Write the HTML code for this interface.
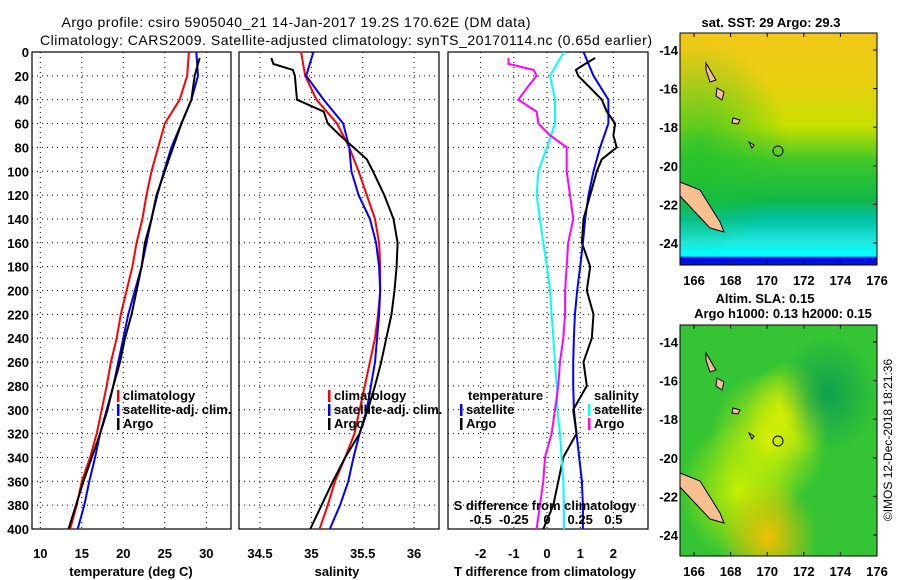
<!DOCTYPE html>
<html><head><meta charset="utf-8"><style>
body{margin:0;background:#fff;}
svg{display:block;font-family:"Liberation Sans",sans-serif;}
.b{font-weight:bold;font-size:13px;}
.t{font-size:14px;}
</style></head><body>
<svg id="c" width="900" height="580" viewBox="0 0 900 580" xmlns="http://www.w3.org/2000/svg">
<defs>
<linearGradient id="sstV" x1="0" y1="0" x2="0" y2="1">
<stop offset="0" stop-color="#f0c818"/><stop offset="0.22" stop-color="#e8d010"/>
<stop offset="0.4" stop-color="#c8e000"/><stop offset="0.55" stop-color="#40c828"/>
<stop offset="0.72" stop-color="#10b848"/><stop offset="0.8" stop-color="#00c0a0"/>
<stop offset="0.9" stop-color="#20e8e0"/><stop offset="0.96" stop-color="#00ffff"/>
<stop offset="0.97" stop-color="#0010e0"/><stop offset="1" stop-color="#0010e0"/>
</linearGradient>
<radialGradient id="sstH" cx="0.1" cy="0.5" r="0.45"><stop offset="0" stop-color="#20c030" stop-opacity="0.8"/><stop offset="1" stop-color="#20c030" stop-opacity="0"/></radialGradient>
<radialGradient id="sla1" cx="0.45" cy="0.5" r="0.3"><stop offset="0" stop-color="#d8f000"/><stop offset="1" stop-color="#d8f000" stop-opacity="0"/></radialGradient>
<radialGradient id="sla2" cx="0.45" cy="0.92" r="0.25"><stop offset="0" stop-color="#f0c000"/><stop offset="1" stop-color="#f0c000" stop-opacity="0"/></radialGradient>
<radialGradient id="sla3" cx="0.75" cy="0.3" r="0.25"><stop offset="0" stop-color="#10a050"/><stop offset="1" stop-color="#10a050" stop-opacity="0"/></radialGradient>
<radialGradient id="sla4" cx="0.3" cy="0.72" r="0.3"><stop offset="0" stop-color="#c8f000"/><stop offset="1" stop-color="#c8f000" stop-opacity="0"/></radialGradient>
<radialGradient id="sla5" cx="0.55" cy="0.38" r="0.22"><stop offset="0" stop-color="#e0f000"/><stop offset="1" stop-color="#e0f000" stop-opacity="0"/></radialGradient>
</defs>
<text class="t" x="296" y="27" text-anchor="middle" textLength="469">Argo profile: csiro 5905040_21 14-Jan-2017 19.2S 170.62E (DM data)</text>
<text class="t" x="346" y="45" text-anchor="middle" textLength="612">Climatology: CARS2009. Satellite-adjusted climatology: synTS_20170114.nc (0.65d earlier)</text>
<g id="plots"></g>
<g id="maps">
 <g>
  <rect x="680" y="33" width="197" height="232" fill="url(#sstV)"/>
  <rect x="680" y="33" width="197" height="232" fill="url(#sstH)"/>
  <path d="M680 182 L700 190 L720 222 L724 232 L710 228 L680 196Z" fill="#f8c090" stroke="#000"/>
  <path d="M706 63 L713 75 L716 80 L710 82 L706 70Z M717 88 L724 92 L722 100 L716 96Z M733 118 L740 120 L738 124 L732 123Z M749 142 L754 145 L752 148Z" fill="#f8c090" stroke="#000"/>
  <circle cx="778" cy="151" r="5" fill="none" stroke="#000"/>
  <rect x="680" y="33" width="197" height="232" fill="none" stroke="#000"/>
  <text class="b" x="771" y="27" text-anchor="middle">sat. SST: 29 Argo: 29.3</text>
 </g>
 <g>
  <rect x="680" y="325" width="197" height="231" fill="#34c434"/>
  <rect x="680" y="325" width="197" height="231" fill="url(#sla1)"/>
  <rect x="680" y="325" width="197" height="231" fill="url(#sla5)"/>
  <rect x="680" y="325" width="197" height="231" fill="url(#sla4)"/>
  <rect x="680" y="325" width="197" height="231" fill="url(#sla2)"/>
  <rect x="680" y="325" width="197" height="231" fill="url(#sla3)"/>
  <path d="M680 473 L700 481 L720 513 L724 523 L710 519 L680 487Z" fill="#f8c090" stroke="#000"/>
  <path d="M706 353 L713 365 L716 370 L710 372 L706 360Z M717 378 L724 382 L722 390 L716 386Z M733 408 L740 410 L738 414 L732 413Z M749 433 L754 436 L752 439Z" fill="#f8c090" stroke="#000"/>
  <circle cx="778" cy="441" r="5" fill="none" stroke="#000"/>
  <rect x="680" y="325" width="197" height="231" fill="none" stroke="#000"/>
  <text class="b" x="765" y="303" text-anchor="middle">Altim. SLA: 0.15</text>
  <text class="b" x="783" y="318" text-anchor="middle">Argo h1000: 0.13 h2000: 0.15</text>
 </g>
 <text x="892" y="440" font-size="12" text-anchor="middle" transform="rotate(-90 892 440)">©IMOS 12-Dec-2018 18:21:36</text>
</g>
</svg>
<script>
const depths=[0,20,40,60,80,100,120,140,160,180,200,220,240,260,280,300,320,340,360,380,400];
const tClim=[27.9,27.7,26.8,25.0,24.2,23.4,22.8,22.3,21.6,21.1,20.4,19.7,19.2,18.5,18.0,17.4,16.8,16.0,15.0,14.4,13.6];
const tSat=[28.8,29.0,28.2,27.0,25.8,24.9,24.1,23.4,22.8,22.2,21.4,20.6,20.0,19.4,18.8,18.0,17.2,16.6,15.9,15.3,14.5];
const argoDepths=[5,10,15,20,30,40,50,60,70,80,90,100,120,140,160,180,200,220,240,260,280,300,320,340,360,380,400];
const tArgo=[29.2,29.0,28.8,28.6,28.4,28.2,27.6,27.0,26.5,26.0,25.5,25.0,24.0,23.4,22.6,22.2,21.6,21.0,20.2,19.6,18.8,18.1,17.2,16.2,15.2,14.3,13.4];
const sClim=[34.90,34.94,35.05,35.25,35.37,35.46,35.54,35.62,35.66,35.67,35.67,35.65,35.62,35.57,35.52,35.47,35.42,35.33,35.23,35.16,35.08];
const sSat=[35.02,34.95,35.12,35.31,35.37,35.39,35.46,35.57,35.63,35.66,35.67,35.66,35.64,35.62,35.58,35.54,35.47,35.41,35.36,35.28,35.18];
const sArgo=[34.61,34.63,34.82,34.84,34.85,34.86,35.12,35.16,35.28,35.41,35.54,35.60,35.71,35.80,35.84,35.83,35.81,35.78,35.73,35.68,35.62,35.55,35.47,35.33,35.21,35.10,34.99];
const dTSat=[1.1,1.4,1.85,1.85,1.6,1.4,1.25,1.15,1.08,1.0,0.91,0.84,0.81,0.79,0.79,0.81,0.89,0.97,1.05,1.08,1.08];
const dTArgo=[1.45,1.15,0.87,0.94,1.3,1.65,1.8,2.05,2.0,2.1,1.65,1.5,1.3,1.1,1.05,1.3,1.2,1.4,1.35,1.1,1.2,0.79,0.89,0.49,0.34,0.19,-0.11];
const dSSat=[0.128,0.023,0.06,0.06,0,-0.065,-0.078,-0.053,-0.028,0,0.023,0.035,0.048,0.06,0.073,0.078,0.098,0.11,0.123,0.128,0.128];
const dSArgo=[-0.29,-0.29,-0.10,-0.078,-0.15,-0.216,-0.078,-0.065,0.023,0.148,0.148,0.148,0.173,0.198,0.16,0.148,0.136,0.136,0.123,0.098,0.085,0.06,0.035,-0.015,-0.028,-0.053,-0.078];
const depthTicks=[0,20,40,60,80,100,120,140,160,180,200,220,240,260,280,300,320,340,360,380,400];
const tTicks=[10,15,20,25,30];
const sTicks=[34.5,35,35.5,36];
const dtTicks=[-2,-1,0,1,2];
const dsTickLabels=["-0.5","-0.25","0","0.25","0.5"];
const lonTicks=[166,168,170,172,174,176];
const latTicks=[-14,-16,-18,-20,-22,-24];

const NS="http://www.w3.org/2000/svg";
const root=document.getElementById('plots');
const TOP=52,BOT=529;
const yD=d=>TOP+d*(BOT-TOP)/400;
const xT=v=>40.3+(v-10)*8.3;
const xS=v=>260+(v-34.5)*102.7;
const xDT=v=>547+v*33.2;
const xDS=v=>547+v*4*33.2;
function mk(tag,attrs,parent){const e=document.createElementNS(NS,tag);for(const k in attrs)e.setAttribute(k,attrs[k]);(parent||root).appendChild(e);return e;}
function txt(x,y,s,anchor,parent,cls){const e=mk('text',{x:x,y:y,'text-anchor':anchor||'middle',class:cls||'b'},parent);e.textContent=s;return e;}
function line(xs,ds,fx,color,name,parent){
 const pts=xs.map((v,i)=>fx(v).toFixed(1)+','+yD(ds[i]).toFixed(1)).join(' ');
 const p=mk('polyline',{points:pts,fill:'none',stroke:color,'stroke-width':2},parent);
 
 
}
function panel(x0,x1,name,vt,fx,yLabels){
 const g=mk('g',{});
 
 
 depthTicks.forEach(d=>{mk('line',{x1:x0,x2:x1,y1:yD(d),y2:yD(d),stroke:'#000','stroke-dasharray':'1,4'},g);
  if(yLabels){const t=txt(29,yD(d)+5,String(d),'end',g);}});
 vt.forEach(v=>mk('line',{x1:fx(v),x2:fx(v),y1:TOP,y2:BOT,stroke:'#000','stroke-dasharray':'1,4'},g));
 mk('rect',{x:x0,y:TOP,width:x1-x0,height:BOT-TOP,fill:'none',stroke:'#000','stroke-width':1.2},g);
 return g;
}
let g1=panel(32,231,'temperature-panel',tTicks,xT,true);
tTicks.forEach(v=>{const t=txt(xT(v),558,String(v),'middle',g1);});
let a1=txt(131,576,'temperature (deg C)','middle',g1);
line(tClim,depths,xT,'#f00','temperature-climatology-line',g1);
line(tSat,depths,xT,'#00f','temperature-satellite-line',g1);
line(tArgo,argoDepths,xT,'#000','temperature-argo-line',g1);
let g2=panel(239,439,'salinity-panel',sTicks,xS,false);
sTicks.forEach(v=>{const t=txt(xS(v),558,String(v),'middle',g2);});
let a2=txt(337,576,'salinity','middle',g2);
line(sClim,depths,xS,'#f00','salinity-climatology-line',g2);
line(sSat,depths,xS,'#00f','salinity-satellite-line',g2);
line(sArgo,argoDepths,xS,'#000','salinity-argo-line',g2);
let g3=panel(448,648,'difference-panel',dtTicks,xDT,false);
dtTicks.forEach(v=>{const t=txt(xDT(v),558,String(v),'middle',g3);});
let a3=txt(545,576,'T difference from climatology','middle',g3);
line(dTSat,depths,xDT,'#00f','t-diff-satellite-line',g3);
line(dTArgo,argoDepths,xDT,'#000','t-diff-argo-line',g3);
line(dSSat,depths,xDS,'#0ff','s-diff-satellite-line',g3);
line(dSArgo,argoDepths,xDS,'#f0f','s-diff-argo-line',g3);
[-0.5,-0.25,0,0.25,0.5].forEach((v,i)=>{const t=txt(xDS(v),524,dsTickLabels[i],'middle',g3);});
let a4=txt(545,510,'S difference from climatology','middle',g3);
function legend(x,y,color,label,parent){
 const g=mk('g',{},parent);
 
 
 mk('rect',{x:x,y:y-10,width:2.5,height:12,fill:color},g);
 txt(x+6,y,label,'start',g);
}
legend(117,400,'#f00','climatology',g1);legend(117,414,'#00f','satellite-adj. clim.',g1);legend(117,428,'#000','Argo',g1);
legend(328,400,'#f00','climatology',g2);legend(328,414,'#00f','satellite-adj. clim.',g2);legend(328,428,'#000','Argo',g2);
let lt=txt(468,400,'temperature','start',g3);
let ls=txt(594,400,'salinity','start',g3);
legend(460,414,'#00f','satellite',g3);legend(460,428,'#000','Argo',g3);
legend(588,414,'#0ff','satellite',g3);legend(588,428,'#f0f','Argo',g3);
const maps=document.getElementById('maps');
const xLon=v=>694+(v-166)*18.3;
[[33,265,50],[325,556,342]].forEach(([y0,y1,lat14])=>{
 const yLat=v=>lat14+(-14-v)*19.3;
 lonTicks.forEach(v=>{mk('line',{x1:xLon(v),x2:xLon(v),y1:y0,y2:y0+4,stroke:'#000'},maps);mk('line',{x1:xLon(v),x2:xLon(v),y1:y1,y2:y1-4,stroke:'#000'},maps);
  const t=txt(xLon(v),y1+20,String(v),'middle',maps);});
 latTicks.forEach(v=>{mk('line',{x1:877,x2:873,y1:yLat(v),y2:yLat(v),stroke:'#000'},maps);
  const t=txt(678,yLat(v)+5,String(v),'end',maps);});
});
</script>
</body></html>
